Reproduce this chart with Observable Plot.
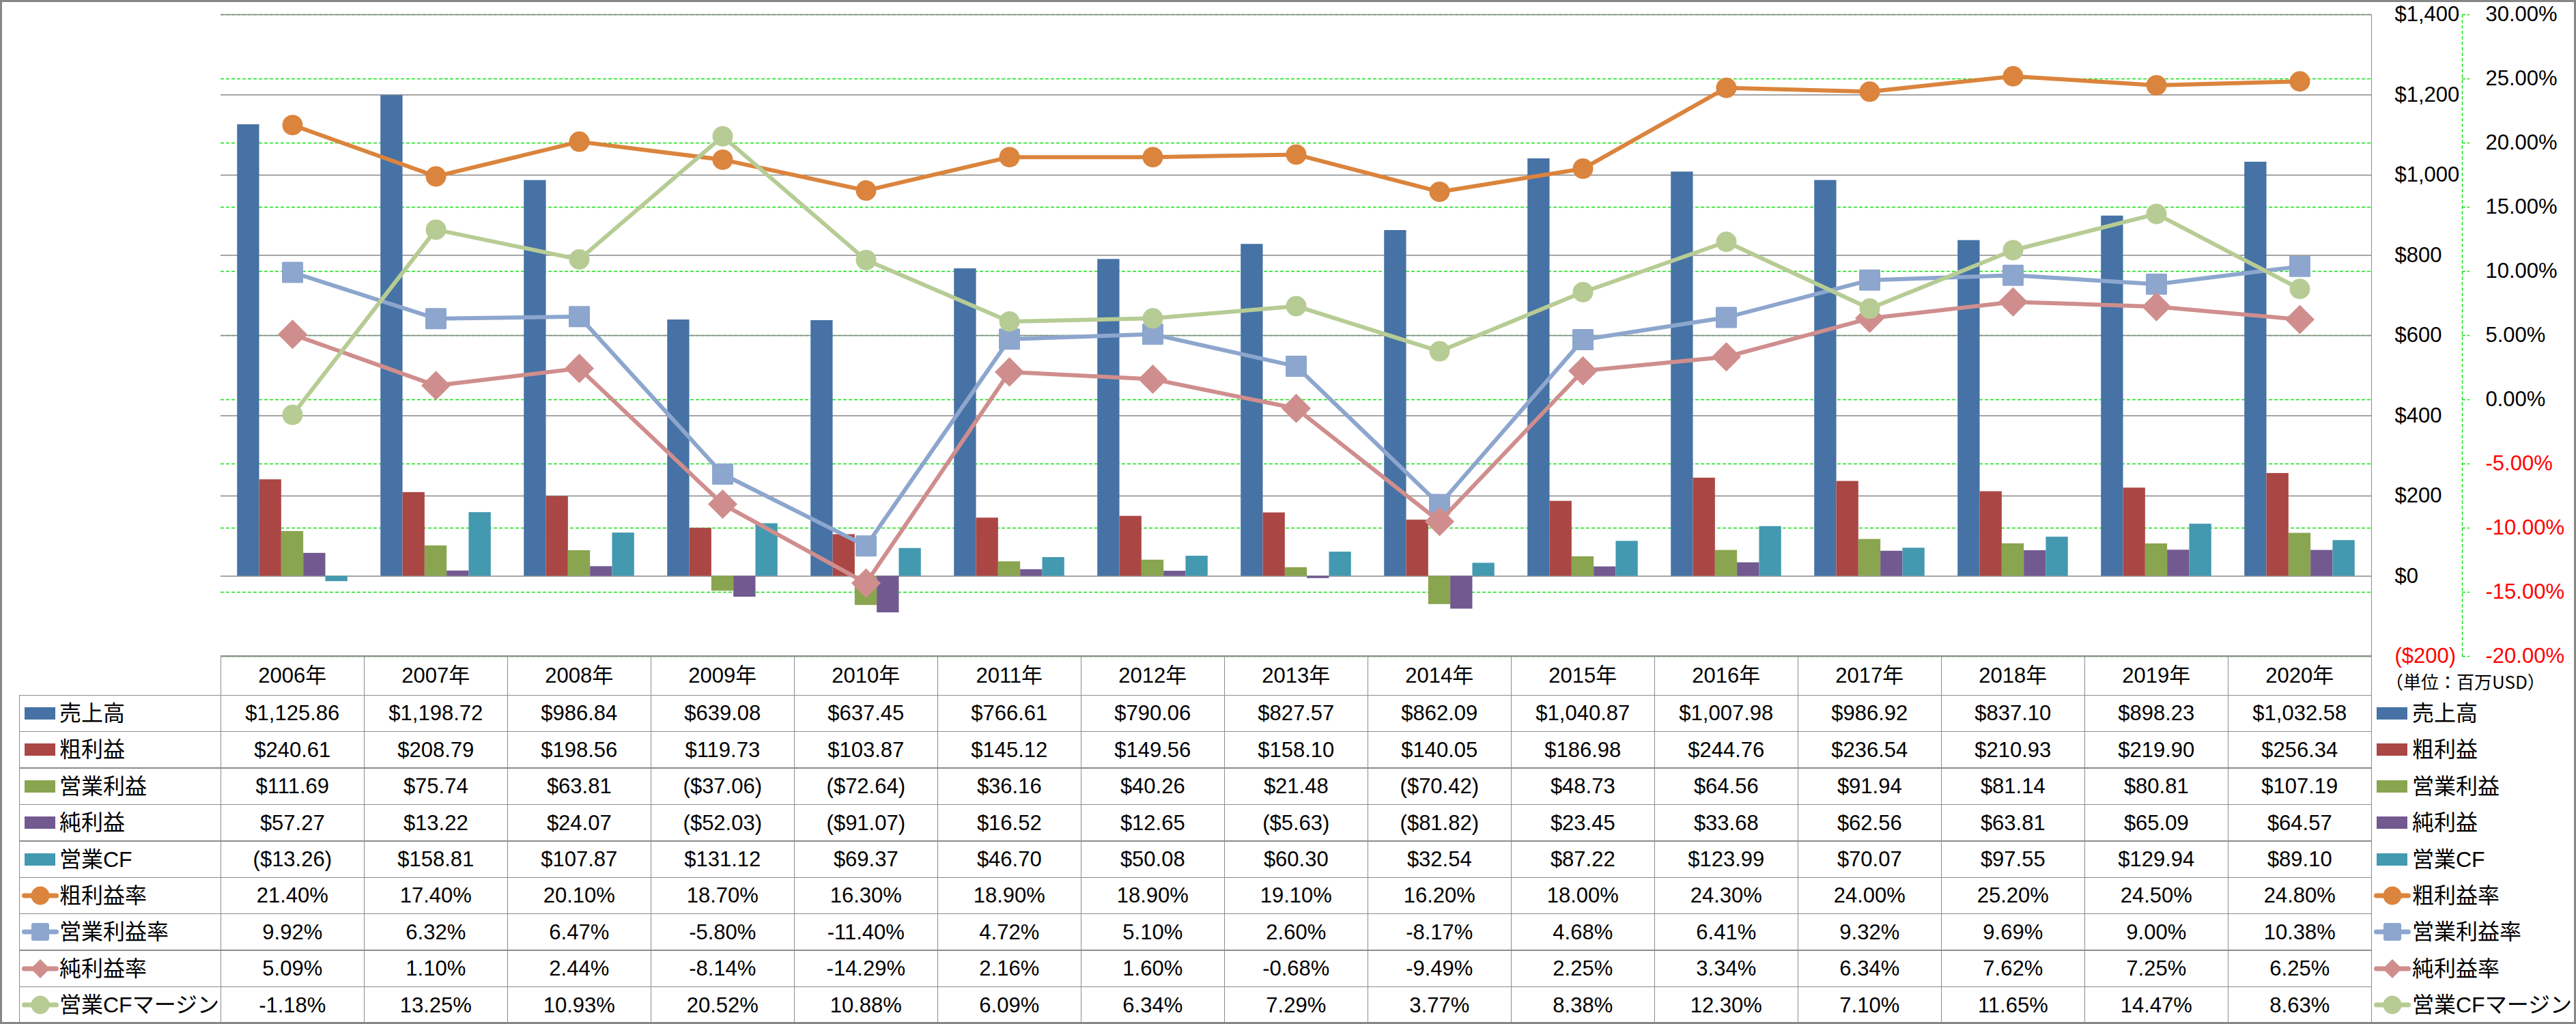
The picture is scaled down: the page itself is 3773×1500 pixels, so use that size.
<!DOCTYPE html>
<html><head><meta charset="utf-8">
<script src="https://cdn.jsdelivr.net/npm/d3@7"></script>
<script src="https://cdn.jsdelivr.net/npm/@observablehq/plot@0.6"></script>
<style>
html,body{margin:0;padding:0;background:#fff;}
#chart{position:relative;width:3773px;height:1500px;overflow:hidden;background:#fff;font-family:"Liberation Sans","Noto Sans CJK JP",sans-serif;color:#000;}
#chart > svg{position:absolute;left:0;top:0;}
.ln{position:absolute;background:#8c8c8c;}
.cell{position:absolute;display:flex;align-items:center;justify-content:center;white-space:nowrap;font-size:31px;line-height:1;}
.lab{position:absolute;white-space:nowrap;font-size:32px;line-height:1;font-family:"Liberation Sans","Noto Sans CJK JP",sans-serif;}
.sw{position:absolute;width:45px;height:18px;}
.icon{position:absolute;}
#border{position:absolute;left:0;top:0;width:3773px;height:1500px;box-sizing:border-box;border:3px solid #878787;pointer-events:none;}
</style></head><body><div id="chart"></div>
<script>
// ---------- data ----------
const years = ["2006年","2007年","2008年","2009年","2010年","2011年","2012年","2013年","2014年","2015年","2016年","2017年","2018年","2019年","2020年"];
const barSeries = ["売上高","粗利益","営業利益","純利益","営業CF"];
const barColors = ["#4672A5","#AA4744","#8AA54F","#725990","#4399B0"];
const sales = [1125.86,1198.72,986.84,639.08,637.45,766.61,790.06,827.57,862.09,1040.87,1007.98,986.92,837.10,898.23,1032.58];
const grossProfit = [240.61,208.79,198.56,119.73,103.87,145.12,149.56,158.10,140.05,186.98,244.76,236.54,210.93,219.90,256.34];
const operatingProfit = [111.69,75.74,63.81,-37.06,-72.64,36.16,40.26,21.48,-70.42,48.73,64.56,91.94,81.14,80.81,107.19];
const netProfit = [57.27,13.22,24.07,-52.03,-91.07,16.52,12.65,-5.63,-81.82,23.45,33.68,62.56,63.81,65.09,64.57];
const operatingCF = [-13.26,158.81,107.87,131.12,69.37,46.70,50.08,60.30,32.54,87.22,123.99,70.07,97.55,129.94,89.10];
const lineSeries = ["粗利益率","営業利益率","純利益率","営業CFマージン"];
const lineColors = ["#DB843D","#8DA6CE","#CF8E8D","#B7CC94"];
const lineSymbols = ["circle","square","diamond2","circle"];
const grossMargin = [21.40,17.40,20.10,18.70,16.30,18.90,18.90,19.10,16.20,18.00,24.30,24.00,25.20,24.50,24.80];
const operatingMargin = [9.92,6.32,6.47,-5.80,-11.40,4.72,5.10,2.60,-8.17,4.68,6.41,9.32,9.69,9.00,10.38];
const netMargin = [5.09,1.10,2.44,-8.14,-14.29,2.16,1.60,-0.68,-9.49,2.25,3.34,6.34,7.62,7.25,6.25];
const cfMargin = [-1.18,13.25,10.93,20.52,10.88,6.09,6.34,7.29,3.77,8.38,12.30,7.10,11.65,14.47,8.63];
const dollarTicks = [-200,0,200,400,600,800,1000,1200,1400];
const pctTicks = [-20,-15,-10,-5,0,5,10,15,20,25,30];
const unitText = "（単位：百万USD）";

// ---------- tables built from arrays ----------
const barValues = [sales, grossProfit, operatingProfit, netProfit, operatingCF];
const lineValues = [grossMargin, operatingMargin, netMargin, cfMargin];
const barData = years.flatMap((yr, i) => barSeries.map((s, j) => ({year: yr, series: s, value: barValues[j][i]})));
const lineData = lineSeries.map((s, j) => years.map((yr, i) => ({year: yr, series: s, value: lineValues[j][i]})));

// ---------- formats ----------
const num2 = d3.format(",.2f");
const fmtMoney = v => v < 0 ? `($${num2(-v)})` : `$${num2(v)}`;
const fmtPct = v => `${v.toFixed(2)}%`;
const fmtAxisMoney = v => v < 0 ? `($${d3.format(",")(-v)})` : `$${d3.format(",")(v)}`;
const fmtAxisPct = v => `${v.toFixed(2)}%`;

// ---------- layout ----------
const W = 3773, H = 1000, ML = 323, MR = 300, MT = 21, MB = 39;
const FONT = '"Liberation Sans","Noto Sans CJK JP",sans-serif';
const GREEN = "#12e012";
const GRID = "#878787";
const svgStyle = {background: "none", overflow: "visible", position: "absolute", left: "0px", top: "0px", maxWidth: "none"};
const base = {width: W, height: H, marginLeft: ML, marginRight: MR, marginTop: MT, marginBottom: MB, style: svgStyle};
const chart = document.getElementById("chart");

// 1. percent grid (green dashed)
chart.append(Plot.plot({
  ...base,
  y: {domain: [-20, 30], axis: null},
  marks: [Plot.ruleY(pctTicks, {y: d => d, stroke: GREEN, strokeWidth: 1.4, strokeDasharray: "5,3"})]
}));

// 2. dollar grid + labels
chart.append(Plot.plot({
  ...base,
  y: {domain: [-200, 1400], axis: null},
  marks: [
    Plot.ruleY(dollarTicks, {y: d => d, stroke: GRID, strokeWidth: 1.5}),
    Plot.text(dollarTicks.filter(d => d >= 0), {y: d => d, text: fmtAxisMoney, frameAnchor: "right", dx: 34, textAnchor: "start", fontSize: 31, fontFamily: FONT, fill: "#000"}),
    Plot.text(dollarTicks.filter(d => d < 0), {y: d => d, text: fmtAxisMoney, frameAnchor: "right", dx: 34, textAnchor: "start", fontSize: 31, fontFamily: FONT, fill: "#ff0000"})
  ]
}));

// 3. bars, faceted by year
chart.append(Plot.plot({
  ...base,
  fx: {domain: years, padding: 0, round: false, axis: null, label: null},
  x: {domain: barSeries, paddingInner: 0, paddingOuter: 0.75, round: false, axis: null},
  y: {domain: [-200, 1400], axis: null},
  color: {domain: barSeries, range: barColors},
  marks: [Plot.barY(barData, {fx: "year", x: "series", y: "value", fill: "series"})]
}));

// 4. ratio lines
const markerOpts = [
  {r: 15, stroke: "none"},
  {r: 15.8, stroke: lineColors[1], strokeWidth: 3, strokeLinejoin: "round"},
  {r: 19.4, stroke: "none"},
  {r: 15, stroke: "none"}
];
chart.append(Plot.plot({
  ...base,
  x: {type: "point", domain: years, padding: 0.5, round: false, axis: null},
  y: {domain: [-20, 30], axis: null},
  marks: lineSeries.flatMap((s, j) => [
    Plot.line(lineData[j], {x: "year", y: "value", stroke: lineColors[j], strokeWidth: 6, strokeLinejoin: "round", strokeLinecap: "round"}),
    Plot.dot(lineData[j], {x: "year", y: "value", symbol: lineSymbols[j], fill: lineColors[j], ...markerOpts[j]})
  ])
}));

// 5. secondary (percent) axis on the right
chart.append(Plot.plot({
  width: W, height: H, marginLeft: 3606, marginRight: W - 3617, marginTop: MT, marginBottom: MB, style: svgStyle,
  x: {domain: [0, 1], axis: null},
  y: {domain: [-20, 30], axis: null},
  marks: [
    Plot.ruleY(pctTicks, {y: d => d, stroke: GREEN, strokeWidth: 1.4, strokeDasharray: "5,3"}),
    Plot.ruleX([0], {stroke: GREEN, strokeWidth: 1.4, strokeDasharray: "5,3"}),
    Plot.text(pctTicks.filter(d => d >= 0), {y: d => d, text: fmtAxisPct, frameAnchor: "left", dx: 34, textAnchor: "start", fontSize: 31, fontFamily: FONT, fill: "#000"}),
    Plot.text(pctTicks.filter(d => d < 0), {y: d => d, text: fmtAxisPct, frameAnchor: "left", dx: 34, textAnchor: "start", fontSize: 31, fontFamily: FONT, fill: "#ff0000"})
  ]
}));

// ---------- data table (HTML) ----------
const T = {left: 28.7, labelRight: 323.3, colW: 210, headTop: 961, headBottom: 1018.3, rowH: 53.4};
const nRows = barSeries.length + lineSeries.length;
const tableBottom = T.headBottom + nRows * T.rowH;
const plotRight = T.labelRight + years.length * T.colW;
function el(cls, css, html) {
  const d = document.createElement("div");
  d.className = cls;
  Object.assign(d.style, css);
  if (html != null) d.innerHTML = html;
  chart.append(d);
  return d;
}
const LW = 1.5;
function hline(x1, x2, y) { el("ln", {left: x1 + "px", top: (y - LW / 2) + "px", width: (x2 - x1) + "px", height: LW + "px"}); }
function vline(x, y1, y2) { el("ln", {left: (x - LW / 2) + "px", top: y1 + "px", width: LW + "px", height: (y2 - y1) + "px"}); }

hline(T.labelRight, plotRight, T.headTop);
for (let r = 0; r <= nRows; r++) hline(T.left, plotRight, T.headBottom + r * T.rowH);
vline(T.left, T.headBottom, tableBottom);
for (let c = 0; c < years.length; c++) vline(T.labelRight + c * T.colW, T.headTop, tableBottom);
vline(plotRight, MT, tableBottom);

// header years
years.forEach((yr, c) => el("cell", {left: (T.labelRight + c * T.colW) + "px", top: T.headTop + "px", width: T.colW + "px", height: (T.headBottom - T.headTop) + "px"}, yr));

// values
const rowValues = [...barValues.map(a => a.map(fmtMoney)), ...lineValues.map(a => a.map(fmtPct))];
rowValues.forEach((vals, r) => vals.forEach((v, c) => el("cell", {
  left: (T.labelRight + c * T.colW) + "px", top: (T.headBottom + r * T.rowH) + "px", width: T.colW + "px", height: T.rowH + "px"
}, v)));

// legend icons
function lineIcon(j) {
  const col = lineColors[j];
  let marker;
  if (lineSymbols[j] === "square") marker = `<rect x="14" y="2" width="26" height="26" rx="3" fill="${col}"/>`;
  else if (lineSymbols[j] === "diamond2") marker = `<path d="M27,1 L41,15 L27,29 L13,15 Z" fill="${col}"/>`;
  else marker = `<circle cx="27" cy="15" r="13.5" fill="${col}"/>`;
  return `<svg width="54" height="30" viewBox="0 0 54 30"><line x1="3.5" y1="15" x2="50.5" y2="15" stroke="${col}" stroke-width="7" stroke-linecap="round"/>${marker}</svg>`;
}
const allNames = [...barSeries, ...lineSeries];
function legendRow(r, swX, iconX, textX) {
  const top = T.headBottom + r * T.rowH;
  const cy = top + T.rowH / 2;
  if (r < barSeries.length) {
    el("sw", {left: swX + "px", top: (cy - 9) + "px", background: barColors[r]});
  } else {
    el("icon", {left: iconX + "px", top: (cy - 15) + "px"}, lineIcon(r - barSeries.length));
  }
  el("lab", {left: textX + "px", top: top + "px", height: T.rowH + "px", display: "flex", alignItems: "center"}, allNames[r]);
}
for (let r = 0; r < nRows; r++) {
  legendRow(r, 36, 31.7, 87);
  legendRow(r, 3481, 3477, 3533);
}

// unit note
el("lab", {left: "3494px", top: "985px", fontSize: "26px", fontFamily: '"Noto Sans CJK JP",sans-serif'}, unitText);

// outer border
el("", {}, null).id = "border";
</script></body></html>
